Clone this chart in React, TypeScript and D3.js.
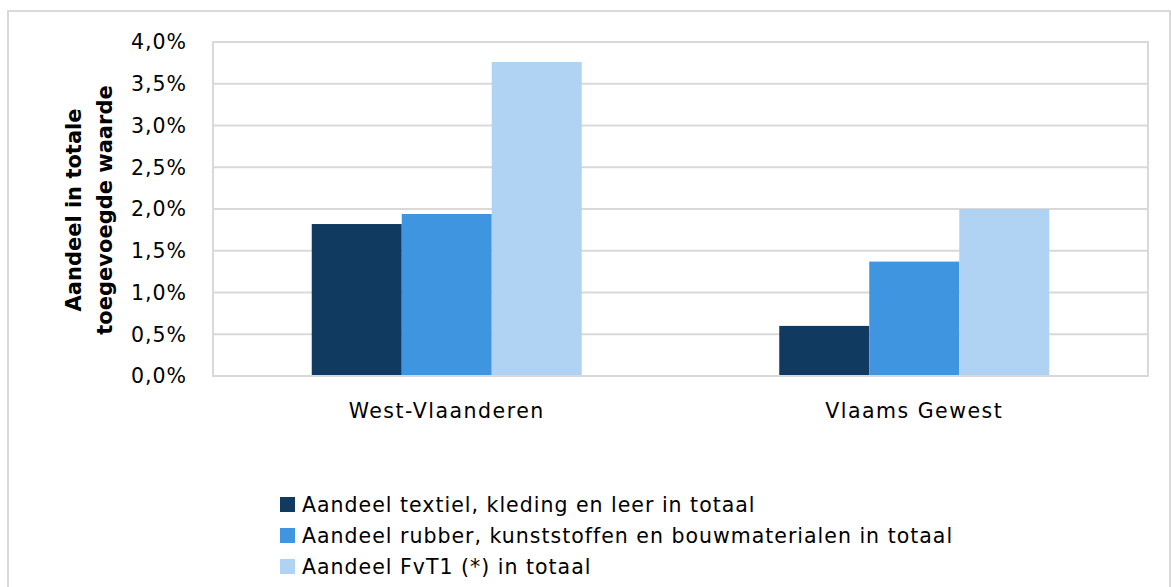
import React, { useEffect, useRef } from "react";
import * as d3 from "d3";

const categories = ["West-Vlaanderen", "Vlaams Gewest"];
const seriesNames = [
  "Aandeel textiel, kleding en leer in totaal",
  "Aandeel rubber, kunststoffen en bouwmaterialen in totaal",
  "Aandeel FvT1 (*) in totaal",
];
const textielValues = [1.82, 0.6];
const rubberValues = [1.94, 1.37];
const fvt1Values = [3.76, 2.0];
const yTicks = [0, 0.5, 1, 1.5, 2, 2.5, 3, 3.5, 4];
const colors = ["#113a60", "#4095e0", "#b0d3f3"];

const App = () => {
  const svgRef = useRef<SVGSVGElement>(null);

  useEffect(() => {
    const w = 1171;
    const h = 587;
    const font = "DejaVu Sans, Verdana, sans-serif";
    const svg = d3.select(svgRef.current).attr("width", w).attr("height", h);
    svg.selectAll("*").remove();

    // outer chart frame
    svg
      .append("rect")
      .attr("x", 8)
      .attr("y", 11)
      .attr("width", 1162)
      .attr("height", 600)
      .attr("fill", "white")
      .attr("stroke", "#d9d9d9")
      .attr("stroke-width", 2);

    const left = 213;
    const right = 1148;
    const top = 42;
    const bottom = 376;

    const x0 = d3.scaleBand().domain(categories).range([left, right]);
    const groupW = 270;
    const x1 = d3.scaleBand().domain(seriesNames).range([0, groupW]);
    const y = d3.scaleLinear().domain([0, 4]).range([bottom, top]);

    // gridlines
    svg
      .append("g")
      .selectAll("line")
      .data(yTicks)
      .join("line")
      .attr("x1", left)
      .attr("x2", right)
      .attr("y1", (d) => y(d))
      .attr("y2", (d) => y(d))
      .attr("stroke", "#d9d9d9")
      .attr("stroke-width", 2);

    // plot border
    svg
      .append("rect")
      .attr("x", left)
      .attr("y", top)
      .attr("width", right - left)
      .attr("height", bottom - top)
      .attr("fill", "none")
      .attr("stroke", "#d9d9d9")
      .attr("stroke-width", 2);

    // y tick labels
    const fmt = (d: number) => d.toFixed(1).replace(".", ",") + "%";
    svg
      .append("g")
      .selectAll("text")
      .data(yTicks)
      .join("text")
      .attr("x", 187)
      .attr("y", (d) => y(d))
      .attr("dy", "0.36em")
      .attr("text-anchor", "end")
      .attr("font-family", font)
      .attr("font-size", 20.5)
      .attr("letter-spacing", 1)
      .attr("fill", "#000")
      .text(fmt);

    const series = [textielValues, rubberValues, fvt1Values];
    // bars
    series.forEach((vals, si) => {
      svg
        .append("g")
        .selectAll("rect")
        .data(vals)
        .join("rect")
        .attr("x", (d, i) => x0(categories[i])! + (x0.bandwidth() - groupW) / 2 + x1(seriesNames[si])!)
        .attr("y", (d) => y(d))
        .attr("width", x1.bandwidth())
        .attr("height", (d) => bottom - y(d))
        .attr("fill", colors[si]);
    });

    // baseline on top of bars
    svg
      .append("line")
      .attr("x1", left)
      .attr("x2", right)
      .attr("y1", bottom)
      .attr("y2", bottom)
      .attr("stroke", "#d9d9d9")
      .attr("stroke-width", 2);

    // category labels
    svg
      .append("g")
      .selectAll("text")
      .data(categories)
      .join("text")
      .attr("x", (d) => x0(d)! + x0.bandwidth() / 2)
      .attr("y", 418)
      .attr("text-anchor", "middle")
      .attr("font-family", font)
      .attr("font-size", 20.5)
      .attr("letter-spacing", 1.5)
      .text((d) => d);

    // y axis title
    const title = svg
      .append("text")
      .attr("transform", "translate(0,210) rotate(-90)")
      .attr("text-anchor", "middle")
      .attr("font-family", font)
      .attr("font-size", 21)
      .attr("font-weight", "bold");
    title.append("tspan").attr("x", 0).attr("y", 81).text("Aandeel in totale");
    title.append("tspan").attr("x", 0).attr("y", 112).text("toegevoegde waarde");

    // legend
    const legend = svg
      .append("g")
      .selectAll("g")
      .data(seriesNames)
      .join("g")
      .attr("transform", (d, i) => `translate(280,${505 + i * 31})`);
    legend
      .append("rect")
      .attr("x", 0)
      .attr("y", -8)
      .attr("width", 15)
      .attr("height", 15)
      .attr("fill", (d, i) => colors[i]);
    legend
      .append("text")
      .attr("x", 22)
      .attr("dy", "0.36em")
      .attr("font-family", font)
      .attr("font-size", 20.5)
      .attr("letter-spacing", 1)
      .text((d) => d);
  }, []);

  return (
    <div style={{ position: "fixed", left: 0, top: 0 }}>
      <svg ref={svgRef}></svg>
    </div>
  );
};

export default App;
